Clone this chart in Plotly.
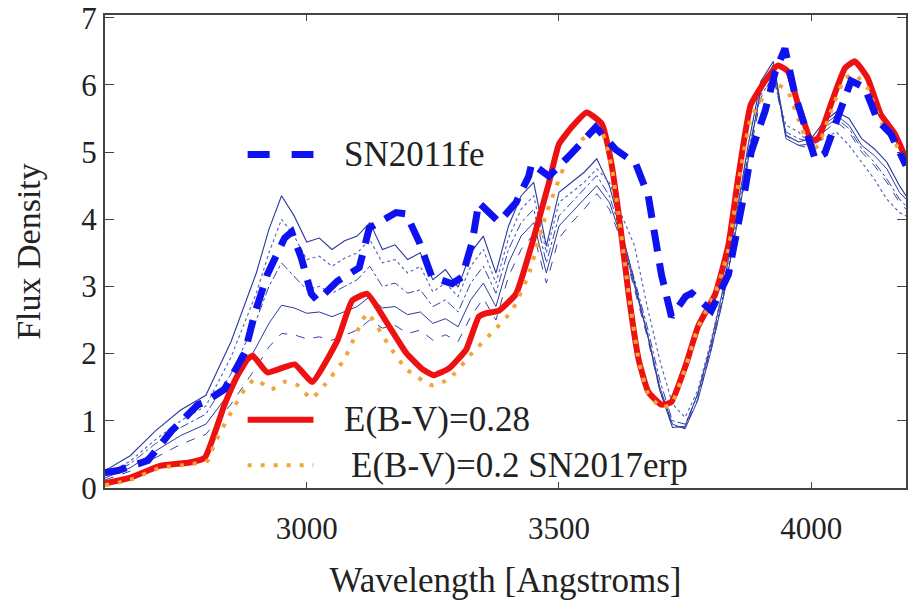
import plotly.graph_objects as go

# ---------------- data ----------------
# SN2011fe (blue thick dashed)
fe_wave = [2600, 2626, 2685, 2732, 2784, 2798, 2837, 2877, 2897, 2922, 2956, 2970, 2989, 3009, 3021,
           3061, 3104, 3124, 3177, 3197, 3223, 3248, 3288, 3308, 3328, 3341, 3367, 3381, 3415, 3440,
           3446, 3480, 3525, 3573, 3612, 3652, 3677, 3691, 3703, 3723, 3751, 3763, 3802, 3836, 3855,
           3869, 3881, 3909, 3929, 3948, 3968, 3988, 4008, 4027, 4053, 4079, 4106, 4132, 4158, 4188]
fe_flux = [0.23, 0.26, 0.41, 0.85, 1.24, 1.28, 1.47, 2.01, 2.6, 3.18, 3.72, 3.81, 3.43, 2.89, 2.79,
           3.08, 3.28, 3.87, 4.1, 4.08, 3.66, 3.14, 3.04, 3.14, 3.66, 4.25, 4.06, 3.96, 4.25, 4.64,
           4.83, 4.64, 4.98, 5.37, 5.04, 4.83, 4.35, 3.72, 3.18, 2.55, 2.85, 2.9, 2.64, 3.18, 3.87,
           4.45, 5.0, 5.62, 6.2, 6.54, 5.85, 5.37, 4.89, 4.98, 5.52, 6.06, 5.96, 5.47, 5.27, 4.8]

# E(B-V)=0.28 (red solid)
r_wave = [2600, 2649, 2709, 2768, 2798, 2837, 2863, 2883, 2893, 2922, 2976, 3011, 3061, 3090, 3120,
          3163, 3197, 3229, 3252, 3282, 3316, 3341, 3355, 3381, 3415, 3446, 3480, 3500, 3525, 3555,
          3585, 3604, 3622, 3638, 3658, 3677, 3703, 3723, 3751, 3776, 3810, 3836, 3855, 3880, 3909,
          3934, 3954, 3974, 4000, 4014, 4039, 4067, 4087, 4112, 4138, 4166, 4188]
r_flux = [0.07, 0.15, 0.33, 0.38, 0.45, 1.24, 1.68, 1.92, 1.97, 1.72, 1.84, 1.58, 2.2, 2.79, 2.89,
          2.41, 2.01, 1.77, 1.68, 1.78, 2.06, 2.55, 2.6, 2.64, 2.89, 3.62, 4.54, 5.12, 5.37, 5.59,
          5.42, 4.83, 3.87, 2.89, 1.91, 1.43, 1.24, 1.28, 1.82, 2.41, 2.89, 3.62, 4.6, 5.7, 6.06,
          6.29, 6.2, 5.71, 5.18, 5.2, 5.71, 6.25, 6.35, 6.1, 5.56, 5.27, 4.9]

# E(B-V)=0.2 SN2017erp (orange dotted)
o_wave = [2600, 2649, 2709, 2768, 2804, 2817, 2851, 2877, 2897, 2930, 2956, 2982, 3009, 3035, 3074,
          3120, 3163, 3197, 3248, 3282, 3328, 3367, 3407, 3440, 3474, 3513, 3545, 3565, 3585, 3604,
          3622, 3638, 3658, 3677, 3703, 3723, 3751, 3776, 3810, 3836, 3855, 3880, 3909, 3934, 3954,
          3974, 4000, 4014, 4039, 4067, 4087, 4112, 4138, 4166, 4188]
o_flux = [0.04, 0.12, 0.3, 0.35, 0.41, 0.66, 1.14, 1.47, 1.62, 1.47, 1.58, 1.53, 1.33, 1.53, 1.91,
          2.6, 2.12, 1.77, 1.53, 1.62, 2.01, 2.31, 2.64, 3.18, 4.06, 4.83, 5.18, 5.3, 5.3, 4.8,
          3.85, 2.9, 1.9, 1.4, 1.2, 1.25, 1.8, 2.4, 2.9, 3.55, 4.5, 5.5, 5.85, 6.0, 5.9,
          5.5, 5.03, 5.1, 5.6, 6.1, 6.15, 5.95, 5.45, 5.15, 4.8]

# thin SN2017erp spectra (common wavelength grid)
t_wave = [2600, 2650, 2700, 2750, 2800, 2850, 2900, 2925, 2950, 2975, 3000, 3025, 3050, 3075, 3100,
          3125, 3150, 3175, 3200, 3225, 3250, 3275, 3300, 3325, 3350, 3375, 3400, 3425, 3450, 3475,
          3500, 3525, 3550, 3575, 3600, 3625, 3650, 3675, 3700, 3725, 3750, 3775, 3800, 3825, 3850,
          3875, 3900, 3925, 3950, 3975, 4000, 4025, 4050, 4075, 4100, 4125, 4150, 4175, 4188]
t1_flux = [0.26, 0.48, 0.85, 1.16, 1.38, 2.18, 3.2, 3.85, 4.35, 4.05, 3.66, 3.72, 3.55, 3.68, 3.75,
           3.95, 3.55, 3.62, 3.4, 3.5, 3.1, 3.25, 2.99, 3.5, 3.75, 3.2, 3.9, 4.35, 4.55, 3.6,
           4.4, 4.55, 4.7, 4.9, 4.5, 3.8, 3.05, 2.3, 1.45, 0.9, 0.92, 1.4, 2.1, 2.95, 4.0,
           5.1, 6.05, 6.35, 5.25, 5.15, 5.2, 5.45, 5.6, 5.5, 5.2, 5.05, 4.85, 4.5, 4.35]
t2_flux = [0.2, 0.4, 0.72, 1.0, 1.22, 1.95, 2.9, 3.5, 4.0, 3.75, 3.4, 3.45, 3.3, 3.42, 3.5,
           3.7, 3.35, 3.4, 3.2, 3.3, 2.92, 3.05, 2.85, 3.3, 3.55, 3.05, 3.72, 4.15, 4.35, 3.5,
           4.25, 4.4, 4.55, 4.75, 4.55, 4.05, 3.6, 2.7, 1.9, 1.25, 1.05, 1.45, 2.15, 2.95, 3.95,
           5.0, 5.85, 6.1, 5.4, 5.3, 5.1, 5.2, 5.3, 5.1, 4.85, 4.6, 4.3, 4.1, 4.05]
t3_flux = [0.18, 0.36, 0.66, 0.9, 1.1, 1.7, 2.5, 3.0, 3.35, 3.15, 2.95, 3.0, 2.9, 3.0, 3.1,
           3.3, 3.0, 3.05, 2.9, 2.95, 2.7, 2.8, 2.62, 3.05, 3.3, 2.9, 3.55, 3.95, 4.15, 3.35,
           4.05, 4.25, 4.45, 4.65, 4.35, 3.75, 3.1, 2.4, 1.6, 1.0, 0.95, 1.38, 2.05, 2.85, 3.85,
           4.95, 5.9, 6.2, 5.3, 5.2, 5.15, 5.35, 5.5, 5.35, 5.05, 4.85, 4.6, 4.3, 4.2]
t4_flux = [0.15, 0.3, 0.55, 0.78, 0.95, 1.45, 2.1, 2.45, 2.72, 2.68, 2.6, 2.62, 2.55, 2.62, 2.7,
           2.85, 2.68, 2.7, 2.58, 2.62, 2.45, 2.52, 2.4, 2.8, 3.05, 2.7, 3.35, 3.75, 3.95, 3.2,
           3.9, 4.1, 4.3, 4.5, 4.25, 3.7, 3.0, 2.3, 1.5, 0.95, 0.88, 1.3, 2.0, 2.8, 3.8,
           4.9, 5.95, 6.3, 5.2, 5.1, 5.12, 5.4, 5.55, 5.4, 5.1, 4.95, 4.75, 4.4, 4.3]
t5_flux = [0.12, 0.25, 0.45, 0.65, 0.8, 1.25, 1.8, 2.1, 2.3, 2.28, 2.22, 2.25, 2.2, 2.27, 2.35,
           2.5, 2.38, 2.42, 2.3, 2.35, 2.2, 2.28, 2.18, 2.55, 2.82, 2.5, 3.15, 3.55, 3.78, 3.05,
           3.72, 3.95, 4.15, 4.38, 4.15, 3.65, 2.95, 2.25, 1.45, 0.92, 0.9, 1.32, 2.0, 2.8, 3.8,
           4.85, 5.8, 6.15, 5.25, 5.1, 5.05, 5.3, 5.45, 5.3, 5.0, 4.8, 4.55, 4.25, 4.15]

x_ticks = [3000, 3500, 4000]
y_ticks = [0, 1, 2, 3, 4, 5, 6, 7]
legend_labels = ["SN2011fe", "E(B-V)=0.28", "E(B-V)=0.2 SN2017erp"]

# ---------------- figure ----------------
FONT = "Liberation Serif, Times New Roman, serif"
fig = go.Figure()

thin_styles = [
    (t1_flux, "#2a3a9e", "solid", 1.1),
    (t2_flux, "#5a6ac0", "dot", 1.2),
    (t3_flux, "#3444a8", "dashdot", 1.0),
    (t4_flux, "#2a3a9e", "solid", 1.0),
    (t5_flux, "#3444a8", "dash", 1.0),
]
for flux, col, dash, w in thin_styles:
    fig.add_trace(go.Scatter(x=t_wave, y=flux, mode="lines",
                             line=dict(color=col, width=w, dash=dash),
                             showlegend=False, hoverinfo="skip"))

fig.add_trace(go.Scatter(x=r_wave, y=r_flux, mode="lines",
                         line=dict(color="#ee1111", width=6, shape="spline", smoothing=0.4),
                         showlegend=False))
fig.add_trace(go.Scatter(x=o_wave, y=o_flux, mode="lines",
                         line=dict(color="#f2a53a", width=4, dash="4px,9px", shape="spline", smoothing=0.4),
                         showlegend=False))
fig.add_trace(go.Scatter(x=fe_wave, y=fe_flux, mode="lines",
                         line=dict(color="#0f12f0", width=7, dash="22px,12px"),
                         showlegend=False))

# legend (manual, unboxed)
T, B = 10, 114
PH = 602 - T - B


def px2paper(px, py):
    return (px - 105) / 803.0, (602 - B - py) / PH


leg = [
    (legend_labels[0], 151, dict(color="#0f12f0", width=7, dash="22px,22px"), 343),
    (legend_labels[1], 419, dict(color="#ee1111", width=6), 343),
    (legend_labels[2], 465, dict(color="#f2a53a", width=4, dash="4px,9px"), 350),
]
for text, py, ln, tx in leg:
    x0, y0 = px2paper(248, py)
    x1, _ = px2paper(314, py)
    fig.add_shape(type="line", xref="paper", yref="paper", x0=x0, x1=x1, y0=y0, y1=y0, line=ln)
    ax, ay = px2paper(tx, py)
    fig.add_annotation(xref="paper", yref="paper", x=ax, y=ay, text=text, showarrow=False,
                       xanchor="left", yanchor="middle",
                       font=dict(family=FONT, size=35, color="#222222"))

axis_common = dict(showgrid=False, zeroline=False, showline=True, linecolor="#444444", linewidth=2,
                   mirror="ticks", ticks="inside", tickcolor="#444444", ticklabeloverflow="allow",
                   tickfont=dict(family=FONT, size=31, color="#222222"))

fig.update_xaxes(range=[2600, 4188], tickvals=x_ticks, ticklen=6, ticklabelstandoff=12,
                 title=dict(text="Wavelength [Angstroms]", font=dict(family=FONT, size=35, color="#222222"),
                            standoff=22),
                 **axis_common)
fig.update_yaxes(range=[0, 7.04], tickvals=y_ticks, ticklen=9,
                 title=dict(text="Flux Density", font=dict(family=FONT, size=34, color="#222222"),
                            standoff=30),
                 **axis_common)

fig.update_layout(width=909, height=602, margin=dict(l=105, r=1, t=T, b=B),
                  paper_bgcolor="white", plot_bgcolor="white", showlegend=False)

fig.write_html("out.html")
